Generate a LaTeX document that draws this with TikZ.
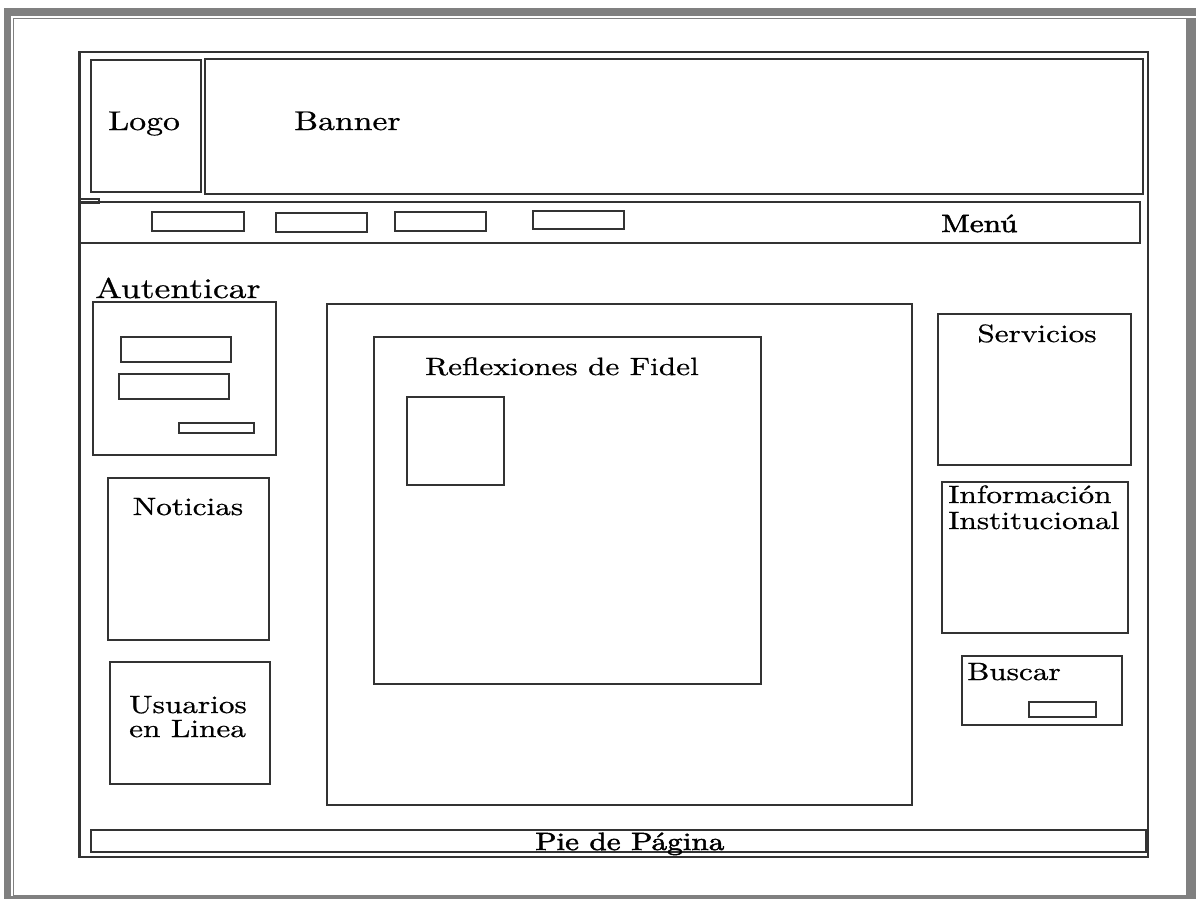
\documentclass[tikz,border=0pt]{standalone}
\usepackage{fontspec}
\setmainfont{lmroman10-regular}[Extension=.otf,BoldFont=lmroman10-bold,FakeStretch=1.25,FakeBold=0.7]
\newfontfamily\heavyfont{lmroman10-regular}[Extension=.otf,FakeStretch=1.25,FakeBold=2.0]
\usepackage{tikz}
\tikzstyle{frame}=[draw=black!80,line width=2.6pt]
\tikzstyle{field}=[draw=black!80,line width=2.4pt]
\tikzstyle{boxtext}=[inner sep=0pt,font=\fontsize{25}{25}\selectfont]
\tikzstyle{bigtext}=[inner sep=0pt,font=\fontsize{27}{27}\selectfont]
\tikzstyle{heavytext}=[inner sep=0pt,font=\fontsize{25}{25}\heavyfont]

\begin{document}
\begin{tikzpicture}[x=1pt,y=-1pt]
        \useasboundingbox (0,0) rectangle (1196,899);
        % page border
        \fill[black!50] (4,8) rectangle (1196,16);
        \fill[black!50] (4,16) rectangle (11,899);
        \fill[black!50] (1187,18) rectangle (1196,899);
        \fill[black!50] (11,896) rectangle (1196,899);
        \draw[black!50,line width=1.5pt] (13.5,18.5) rectangle (1187,896);
        % page
        \draw[frame] (79.5,52) rectangle (1148,857);
        \draw[frame] (91,60) rectangle (201,192);
        \draw[frame] (205,59) rectangle (1143,194);
        \draw[field,line width=1.6pt] (80,199) rectangle (99,203);
        \node[bigtext,anchor=base west] (logo) at (108,130) {Logo};
        \node[bigtext,anchor=base west] (banner) at (294,130) {Banner};
        % menu
        \draw[frame] (79.5,202) rectangle (1140,243);
        \draw[field] (152,212) rectangle (244,231);
        \draw[field] (276,213) rectangle (367,232);
        \draw[field] (395,212) rectangle (486,231);
        \draw[field] (533,211) rectangle (624,229);
        \node[heavytext,anchor=base west] (menu) at (941,232) {Menú};
        % left column
        \node[inner sep=0pt,font=\fontsize{28.5}{28.5}\selectfont,anchor=base west] (autenticar) at (95,298) {Autenticar};
        \draw[frame] (93,302) rectangle (276,455);
        \draw[field] (121,337) rectangle (231,362);
        \draw[field] (119,374) rectangle (229,399);
        \draw[field] (179,423) rectangle (254,433);
        \draw[frame] (108,478) rectangle (269,640);
        \node[boxtext,anchor=base] (noticias) at (188,515) {Noticias};
        \draw[frame] (110,662) rectangle (270,784);
        \node[boxtext,anchor=base west,align=left,font=\fontsize{25}{24}\selectfont] (usuarios) at (129,737) {Usuarios\\en Linea};
        % center
        \draw[frame] (327,304) rectangle (912,805);
        \draw[frame] (374,337) rectangle (761,684);
        \draw[frame] (407,397) rectangle (504,485);
        \node[boxtext,anchor=base west] (reflexiones) at (425,375) {Reflexiones de Fidel};
        % right column
        \draw[frame] (938,314) rectangle (1131,465);
        \node[boxtext,anchor=base] (servicios) at (1037,342) {Servicios};
        \draw[frame] (942,482) rectangle (1128,633);
        \node[boxtext,anchor=base west,align=left,font=\fontsize{25}{26}\selectfont] (informacion) at (948,529) {Información\\Institucional};
        \draw[frame] (962,656) rectangle (1122,725);
        \node[boxtext,anchor=base west] (buscar) at (967,680) {Buscar};
        \draw[field] (1029,702) rectangle (1096,717);
        % footer
        \draw[frame] (91,830) rectangle (1146,852);
        \node[heavytext,anchor=base west] (pie) at (535,850) {Pie de Página};
      \end{tikzpicture}
\end{document}
